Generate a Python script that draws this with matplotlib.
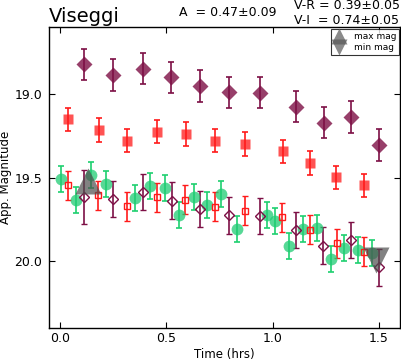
import matplotlib
matplotlib.use("Agg")
import matplotlib.pyplot as plt
from matplotlib.lines import Line2D

# V filled (purple diamonds)
tV = [0.113, 0.247, 0.388, 0.524, 0.658, 0.796, 0.942, 1.110, 1.240, 1.369, 1.502]
magV = [18.823, 18.887, 18.849, 18.900, 18.950, 18.991, 18.992, 19.076, 19.171, 19.137, 19.304]
errV = [0.094, 0.095, 0.094, 0.094, 0.095, 0.095, 0.094, 0.094, 0.094, 0.094, 0.095]

# R filled (red squares)
tR = [0.035, 0.181, 0.314, 0.455, 0.592, 0.727, 0.871, 1.047, 1.177, 1.298, 1.431]
magR = [19.151, 19.215, 19.279, 19.225, 19.240, 19.279, 19.300, 19.344, 19.413, 19.499, 19.547]
errR = [0.07, 0.072, 0.07, 0.07, 0.07, 0.07, 0.07, 0.07, 0.07, 0.07, 0.07]

# I (green circles)
tI = [0.002, 0.075, 0.145, 0.214, 0.352, 0.424, 0.492, 0.560, 0.628, 0.691, 0.757,
      0.833, 0.976, 1.012, 1.076, 1.144, 1.207, 1.273, 1.337, 1.403, 1.468]
magI = [19.509, 19.632, 19.483, 19.539, 19.622, 19.549, 19.563, 19.722, 19.616, 19.662, 19.598,
        19.807, 19.722, 19.758, 19.907, 19.807, 19.804, 19.985, 19.923, 19.931, 19.950]
errI = [0.078] * 21

# R shifted (open red squares)
tRs = [0.038, 0.179, 0.315, 0.457, 0.590, 0.727, 0.868, 1.045, 1.176, 1.303, 1.431]
magRs = [19.547, 19.607, 19.672, 19.619, 19.634, 19.675, 19.698, 19.738, 19.811, 19.893, 19.945]
errRs = [0.087] * 11

# V shifted (open purple diamonds)
tVs = [0.113, 0.247, 0.391, 0.527, 0.659, 0.796, 0.940, 1.110, 1.238, 1.369, 1.500]
magVs = [19.616, 19.626, 19.587, 19.638, 19.687, 19.726, 19.728, 19.813, 19.909, 19.873, 20.038]
errVs = [0.16, 0.108, 0.11, 0.109, 0.106, 0.109, 0.107, 0.108, 0.111, 0.11, 0.11]

# max / min markers
t_max, mag_max = [0.132], [19.52]
t_min, mag_min = [1.486], [19.996]

title = "Viseggi"
amp_text = "A  = 0.47\u00b10.09"
vr_text = "V-R = 0.39\u00b10.05"
vi_text = "V-I  = 0.74\u00b10.05"

plt.rcParams['font.family'] = ['DejaVu Sans']
fig = plt.figure(figsize=(4.01, 3.62), dpi=100)
ax = fig.add_axes([0.122, 0.094, 0.8755, 0.831])

purple = '#7d0f45'
red = '#ff1a1a'
green = '#1ed070'

ax.errorbar(tV, magV, yerr=errV, fmt='D', ms=8, mfc=(0.49, 0.06, 0.27, 0.8), mec='none',
            ecolor=purple, elinewidth=1.2, capsize=2.5, capthick=1.2, zorder=3)
ax.errorbar(tR, magR, yerr=errR, fmt='s', ms=7, mfc=(1, 0.1, 0.1, 0.75), mec='none',
            ecolor=red, elinewidth=1.2, capsize=2.5, capthick=1.2, zorder=3)
ax.errorbar(tI, magI, yerr=errI, fmt='o', ms=8.5, mfc=(0.12, 0.8, 0.45, 0.75), mec='none',
            ecolor=green, elinewidth=1.2, capsize=2.5, capthick=1.2, zorder=3)
ax.errorbar(tRs, magRs, yerr=errRs, fmt='s', ms=4.5, mfc='none', mec=red, mew=1.0,
            ecolor=red, elinewidth=1.2, capsize=2.5, capthick=1.2, zorder=3)
ax.errorbar(tVs, magVs, yerr=errVs, fmt='D', ms=5, mfc='none', mec=purple, mew=1.0,
            ecolor=purple, elinewidth=1.2, capsize=2.5, capthick=1.2, zorder=3)

ax.plot(t_max, mag_max, '^', ms=19, color=(0.3, 0.3, 0.3, 0.7), mec='none', zorder=4)
ax.plot(t_min, mag_min, 'v', ms=19, color=(0.3, 0.3, 0.3, 0.7), mec='none', zorder=4)

ax.set_xlim(-0.053, 1.6)
ax.set_ylim(20.4, 18.6)
ax.set_xticks([0.0, 0.5, 1.0, 1.5])
ax.set_yticks([19.0, 19.5, 20.0])
ax.tick_params(direction='in', top=True, right=True, length=4, width=0.8, labelsize=9)
ax.tick_params(axis='x', pad=3)
ax.tick_params(axis='y', pad=5)
for s in ax.spines.values():
    s.set_linewidth(1.0)
ax.set_xlabel("Time (hrs)", fontsize=8.5)
ax.set_ylabel("App. Magnitude", fontsize=8.5)
ax.xaxis.set_label_coords(0.5, -0.065)
ax.yaxis.set_label_coords(-0.105, 0.5)

handles = [Line2D([], [], marker='^', ls='none', ms=11, color=(0.35, 0.35, 0.35, 0.7), mec='none'),
           Line2D([], [], marker='v', ls='none', ms=11, color=(0.35, 0.35, 0.35, 0.7), mec='none')]
leg = ax.legend(handles, ["max mag", "min mag"], loc='upper right', fontsize=6.5,
                frameon=True, fancybox=False, edgecolor='black', handlelength=1.2,
                handletextpad=1.0, labelspacing=0.25, borderpad=0.35,
                bbox_to_anchor=(0.998, 0.995), borderaxespad=0.0)
leg.get_frame().set_linewidth(0.8)

fig.text(49 / 401, 1 - 22.5 / 362, title, fontsize=14, ha='left', va='baseline')
fig.text(228 / 401, 1 - 16.5 / 362, amp_text, fontsize=9, ha='center', va='baseline')
fig.text(347 / 401, 1 - 9 / 362, vr_text, fontsize=9, ha='center', va='baseline')
fig.text(347 / 401, 1 - 23.5 / 362, vi_text, fontsize=9, ha='center', va='baseline')

fig.savefig("out.png", dpi=100)
